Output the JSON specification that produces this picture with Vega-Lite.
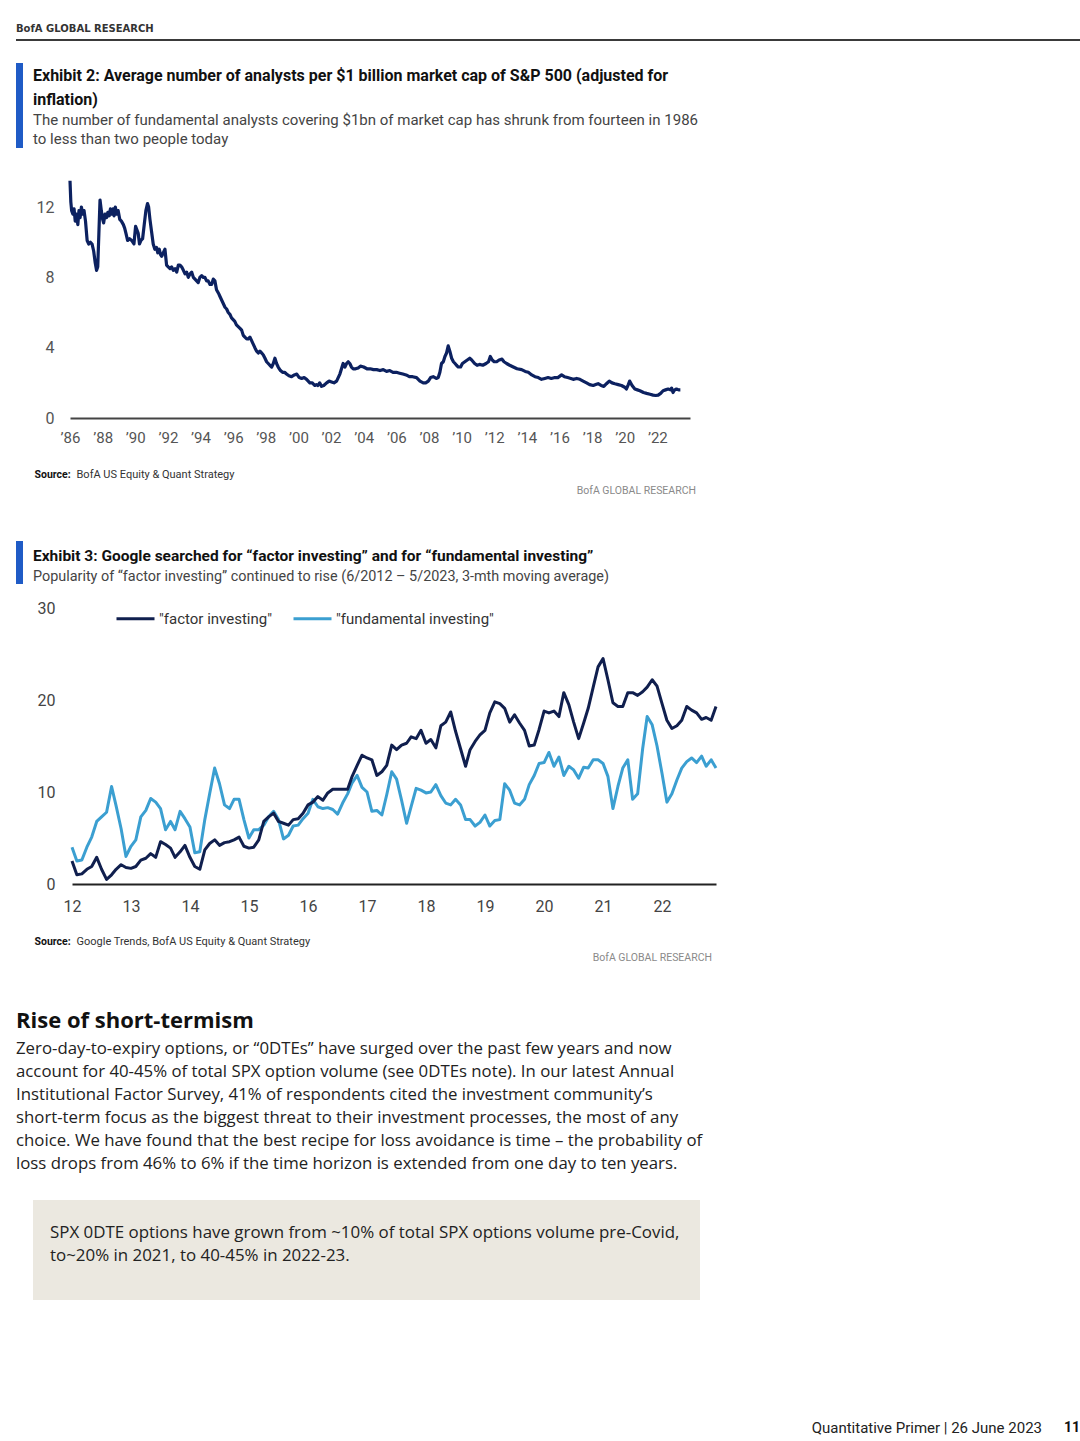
{
  "$schema": "https://vega.github.io/schema/vega-lite/v6.json",
  "background": "white",
  "padding": {"left": 16, "top": 0, "right": 0, "bottom": 0},
  "bounds": "flush",
  "spacing": 0,
  "config": {
    "view": {"stroke": null},
    "font": "Roboto",
    "title": {"font": "Roboto", "subtitleFont": "Roboto"},
    "axis": {"labelFont": "Roboto", "titleFont": "Roboto"},
    "legend": {"labelFont": "Roboto"}
  },
  "datasets": {
    "ana": [
      {"t":1986.00,"v":13.5},{"t":1986.05,"v":12.3},{"t":1986.10,"v":11.8},{"t":1986.18,"v":11.6},{"t":1986.25,"v":11.9},{"t":1986.32,"v":11.2},{"t":1986.40,"v":11.6},{"t":1986.48,"v":11.0},{"t":1986.55,"v":11.8},{"t":1986.62,"v":11.4},{"t":1986.70,"v":12.0},{"t":1986.78,"v":11.6},{"t":1986.86,"v":11.8},{"t":1986.95,"v":11.2},
      {"t":1987.05,"v":10.1},{"t":1987.15,"v":9.9},{"t":1987.25,"v":10.0},{"t":1987.35,"v":9.9},{"t":1987.45,"v":9.5},{"t":1987.55,"v":8.8},{"t":1987.63,"v":8.4},{"t":1987.70,"v":8.6},{"t":1987.77,"v":10.5},{"t":1987.84,"v":12.4},{"t":1987.92,"v":11.8},
      {"t":1988.00,"v":11.3},{"t":1988.06,"v":11.1},{"t":1988.15,"v":11.6},{"t":1988.24,"v":11.4},{"t":1988.32,"v":11.7},{"t":1988.40,"v":11.5},{"t":1988.48,"v":11.9},{"t":1988.56,"v":11.6},{"t":1988.64,"v":11.9},{"t":1988.70,"v":11.5},{"t":1988.78,"v":12.0},{"t":1988.86,"v":11.6},{"t":1988.95,"v":11.8},
      {"t":1989.05,"v":11.3},{"t":1989.15,"v":11.2},{"t":1989.27,"v":11.0},{"t":1989.35,"v":10.8},{"t":1989.43,"v":10.5},{"t":1989.53,"v":10.1},{"t":1989.65,"v":10.2},{"t":1989.78,"v":10.1},{"t":1989.92,"v":9.9},
      {"t":1990.02,"v":10.9},{"t":1990.10,"v":10.7},{"t":1990.18,"v":10.5},{"t":1990.26,"v":9.9},{"t":1990.35,"v":10.1},{"t":1990.45,"v":10.2},{"t":1990.55,"v":11.0},{"t":1990.65,"v":11.8},{"t":1990.75,"v":12.2},{"t":1990.82,"v":12.0},{"t":1990.90,"v":11.3},
      {"t":1991.00,"v":10.6},{"t":1991.10,"v":9.9},{"t":1991.20,"v":9.6},{"t":1991.30,"v":9.7},{"t":1991.38,"v":9.4},{"t":1991.47,"v":9.6},{"t":1991.55,"v":9.3},{"t":1991.62,"v":9.2},{"t":1991.72,"v":9.4},{"t":1991.82,"v":9.6},{"t":1991.92,"v":8.7},
      {"t":1992.02,"v":8.6},{"t":1992.13,"v":8.5},{"t":1992.23,"v":8.6},{"t":1992.33,"v":8.4},{"t":1992.44,"v":8.5},{"t":1992.54,"v":8.3},{"t":1992.64,"v":8.7},{"t":1992.74,"v":8.7},{"t":1992.84,"v":8.6},{"t":1992.95,"v":8.4},
      {"t":1993.05,"v":8.2},{"t":1993.15,"v":8.3},{"t":1993.25,"v":8.0},{"t":1993.36,"v":8.2},{"t":1993.46,"v":8.3},{"t":1993.56,"v":8.0},{"t":1993.66,"v":7.9},{"t":1993.76,"v":7.8},{"t":1993.86,"v":7.7},{"t":1993.96,"v":8.0},
      {"t":1994.07,"v":8.1},{"t":1994.17,"v":8.0},{"t":1994.27,"v":8.0},{"t":1994.37,"v":7.8},{"t":1994.47,"v":7.8},{"t":1994.58,"v":7.6},{"t":1994.68,"v":7.6},{"t":1994.78,"v":7.9},{"t":1994.88,"v":7.8},{"t":1994.98,"v":7.3},
      {"t":1995.10,"v":7.1},{"t":1995.20,"v":6.9},{"t":1995.30,"v":6.7},{"t":1995.40,"v":6.5},{"t":1995.50,"v":6.3},{"t":1995.60,"v":6.2},{"t":1995.70,"v":6.0},{"t":1995.80,"v":5.9},{"t":1995.90,"v":5.7},
      {"t":1996.00,"v":5.6},{"t":1996.10,"v":5.5},{"t":1996.20,"v":5.3},{"t":1996.31,"v":5.2},{"t":1996.42,"v":5.1},{"t":1996.52,"v":5.0},{"t":1996.62,"v":4.7},{"t":1996.72,"v":4.6},{"t":1996.83,"v":4.5},{"t":1996.93,"v":4.5},
      {"t":1997.03,"v":4.6},{"t":1997.13,"v":4.4},{"t":1997.23,"v":4.2},{"t":1997.33,"v":4.0},{"t":1997.44,"v":3.8},{"t":1997.54,"v":3.7},{"t":1997.64,"v":3.8},{"t":1997.74,"v":3.7},{"t":1997.84,"v":3.6},{"t":1997.95,"v":3.4},
      {"t":1998.05,"v":3.2},{"t":1998.15,"v":3.1},{"t":1998.25,"v":3.0},{"t":1998.36,"v":2.9},{"t":1998.46,"v":3.1},{"t":1998.56,"v":3.4},{"t":1998.66,"v":3.1},{"t":1998.76,"v":2.9},{"t":1998.90,"v":2.7},
      {"t":1999.03,"v":2.6},{"t":1999.15,"v":2.6},{"t":1999.27,"v":2.5},{"t":1999.42,"v":2.4},{"t":1999.58,"v":2.35},{"t":1999.75,"v":2.45},{"t":1999.90,"v":2.5},
      {"t":2000.05,"v":2.3},{"t":2000.20,"v":2.25},{"t":2000.35,"v":2.3},{"t":2000.50,"v":2.2},{"t":2000.60,"v":2.1},{"t":2000.70,"v":2.0},{"t":2000.85,"v":2.0},
      {"t":2001.00,"v":1.85},{"t":2001.10,"v":1.9},{"t":2001.20,"v":1.85},{"t":2001.30,"v":2.0},{"t":2001.42,"v":1.8},{"t":2001.55,"v":1.85},{"t":2001.73,"v":2.0},{"t":2001.88,"v":2.1},
      {"t":2002.03,"v":2.05},{"t":2002.18,"v":2.0},{"t":2002.34,"v":2.1},{"t":2002.44,"v":2.3},{"t":2002.54,"v":2.5},{"t":2002.64,"v":2.8},{"t":2002.74,"v":3.1},{"t":2002.85,"v":2.9},{"t":2002.95,"v":3.1},
      {"t":2003.05,"v":3.2},{"t":2003.15,"v":3.1},{"t":2003.25,"v":2.9},{"t":2003.36,"v":2.8},{"t":2003.50,"v":2.8},{"t":2003.66,"v":2.85},{"t":2003.80,"v":2.95},
      {"t":2004.00,"v":2.9},{"t":2004.20,"v":2.8},{"t":2004.40,"v":2.8},{"t":2004.60,"v":2.75},{"t":2004.80,"v":2.75},
      {"t":2005.00,"v":2.7},{"t":2005.20,"v":2.75},{"t":2005.40,"v":2.65},{"t":2005.60,"v":2.7},{"t":2005.80,"v":2.6},
      {"t":2006.00,"v":2.6},{"t":2006.20,"v":2.55},{"t":2006.40,"v":2.5},{"t":2006.60,"v":2.45},{"t":2006.80,"v":2.35},
      {"t":2007.00,"v":2.35},{"t":2007.24,"v":2.3},{"t":2007.45,"v":2.1},{"t":2007.65,"v":2.0},{"t":2007.80,"v":2.0},{"t":2007.96,"v":2.1},
      {"t":2008.10,"v":2.3},{"t":2008.26,"v":2.35},{"t":2008.45,"v":2.25},{"t":2008.57,"v":2.3},{"t":2008.67,"v":2.6},{"t":2008.77,"v":3.1},{"t":2008.88,"v":3.2},{"t":2008.98,"v":3.5},
      {"t":2009.08,"v":3.7},{"t":2009.18,"v":4.1},{"t":2009.28,"v":3.8},{"t":2009.39,"v":3.4},{"t":2009.50,"v":3.2},{"t":2009.60,"v":3.1},{"t":2009.69,"v":3.0},{"t":2009.80,"v":2.9},{"t":2009.94,"v":2.9},
      {"t":2010.05,"v":3.1},{"t":2010.20,"v":3.2},{"t":2010.35,"v":3.3},{"t":2010.50,"v":3.4},{"t":2010.62,"v":3.3},{"t":2010.80,"v":3.1},{"t":2010.95,"v":3.0},
      {"t":2011.10,"v":3.05},{"t":2011.30,"v":3.0},{"t":2011.50,"v":3.1},{"t":2011.65,"v":3.2},{"t":2011.76,"v":3.5},{"t":2011.88,"v":3.3},
      {"t":2012.00,"v":3.2},{"t":2012.15,"v":3.2},{"t":2012.30,"v":3.3},{"t":2012.48,"v":3.35},{"t":2012.60,"v":3.2},{"t":2012.76,"v":3.1},{"t":2012.95,"v":3.0},
      {"t":2013.17,"v":2.9},{"t":2013.40,"v":2.8},{"t":2013.68,"v":2.75},{"t":2013.90,"v":2.65},
      {"t":2014.09,"v":2.6},{"t":2014.30,"v":2.45},{"t":2014.50,"v":2.35},{"t":2014.70,"v":2.3},{"t":2014.90,"v":2.2},
      {"t":2015.10,"v":2.25},{"t":2015.30,"v":2.3},{"t":2015.50,"v":2.25},{"t":2015.72,"v":2.3},{"t":2015.90,"v":2.3},
      {"t":2016.13,"v":2.45},{"t":2016.30,"v":2.35},{"t":2016.50,"v":2.3},{"t":2016.70,"v":2.25},{"t":2016.84,"v":2.2},
      {"t":2017.05,"v":2.25},{"t":2017.25,"v":2.2},{"t":2017.45,"v":2.1},{"t":2017.66,"v":2.0},{"t":2017.85,"v":1.9},
      {"t":2018.07,"v":1.85},{"t":2018.22,"v":1.9},{"t":2018.37,"v":1.95},{"t":2018.55,"v":1.85},{"t":2018.72,"v":1.8},{"t":2018.88,"v":1.95},
      {"t":2019.05,"v":2.1},{"t":2019.22,"v":2.0},{"t":2019.40,"v":1.95},{"t":2019.60,"v":1.9},{"t":2019.80,"v":1.85},
      {"t":2020.00,"v":1.75},{"t":2020.10,"v":1.65},{"t":2020.22,"v":1.9},{"t":2020.30,"v":2.1},{"t":2020.45,"v":1.85},{"t":2020.62,"v":1.65},{"t":2020.78,"v":1.6},{"t":2020.93,"v":1.55},
      {"t":2021.15,"v":1.45},{"t":2021.34,"v":1.4},{"t":2021.55,"v":1.35},{"t":2021.74,"v":1.3},{"t":2021.90,"v":1.28},
      {"t":2022.05,"v":1.3},{"t":2022.20,"v":1.4},{"t":2022.35,"v":1.55},{"t":2022.50,"v":1.6},{"t":2022.66,"v":1.65},{"t":2022.80,"v":1.6},{"t":2022.87,"v":1.7},{"t":2022.96,"v":1.45},
      {"t":2023.06,"v":1.6},{"t":2023.17,"v":1.65},{"t":2023.30,"v":1.6},{"t":2023.41,"v":1.6}
    ],
    "gt": [
      {"d":"2012-06","factor":2.5,"fund":4.0},{"d":"2012-07","factor":1.0,"fund":2.5},{"d":"2012-08","factor":1.1,"fund":2.6},{"d":"2012-09","factor":1.6,"fund":4.0},{"d":"2012-10","factor":1.9,"fund":5.1},{"d":"2012-11","factor":2.9,"fund":6.8},{"d":"2012-12","factor":1.6,"fund":7.3},
      {"d":"2013-01","factor":0.5,"fund":7.8},{"d":"2013-02","factor":1.0,"fund":10.6},{"d":"2013-03","factor":1.6,"fund":8.5},{"d":"2013-04","factor":2.1,"fund":6.0},{"d":"2013-05","factor":1.8,"fund":3.0},{"d":"2013-06","factor":1.7,"fund":4.1},{"d":"2013-07","factor":1.9,"fund":4.8},{"d":"2013-08","factor":2.6,"fund":7.3},{"d":"2013-09","factor":2.8,"fund":8.0},{"d":"2013-10","factor":3.3,"fund":9.3},{"d":"2013-11","factor":2.9,"fund":8.9},{"d":"2013-12","factor":4.6,"fund":8.2},
      {"d":"2014-01","factor":4.3,"fund":5.9},{"d":"2014-02","factor":3.9,"fund":6.8},{"d":"2014-03","factor":2.9,"fund":5.9},{"d":"2014-04","factor":3.5,"fund":7.9},{"d":"2014-05","factor":4.2,"fund":7.1},{"d":"2014-06","factor":2.9,"fund":6.2},{"d":"2014-07","factor":1.9,"fund":3.4},{"d":"2014-08","factor":1.6,"fund":3.5},{"d":"2014-09","factor":3.7,"fund":7.0},{"d":"2014-10","factor":4.4,"fund":9.8},{"d":"2014-11","factor":4.8,"fund":12.6},{"d":"2014-12","factor":4.2,"fund":10.9},
      {"d":"2015-01","factor":4.5,"fund":8.6},{"d":"2015-02","factor":4.6,"fund":8.2},{"d":"2015-03","factor":4.8,"fund":9.2},{"d":"2015-04","factor":5.1,"fund":9.2},{"d":"2015-05","factor":4.1,"fund":7.0},{"d":"2015-06","factor":3.9,"fund":5.0},{"d":"2015-07","factor":4.0,"fund":5.9},{"d":"2015-08","factor":4.8,"fund":5.9},{"d":"2015-09","factor":6.8,"fund":6.4},{"d":"2015-10","factor":7.3,"fund":7.3},{"d":"2015-11","factor":7.7,"fund":7.9},{"d":"2015-12","factor":6.8,"fund":7.0},
      {"d":"2016-01","factor":6.6,"fund":4.9},{"d":"2016-02","factor":6.4,"fund":5.3},{"d":"2016-03","factor":7.0,"fund":6.3},{"d":"2016-04","factor":7.1,"fund":6.4},{"d":"2016-05","factor":7.7,"fund":7.1},{"d":"2016-06","factor":8.6,"fund":7.7},{"d":"2016-07","factor":8.9,"fund":9.2},{"d":"2016-08","factor":9.5,"fund":8.4},{"d":"2016-09","factor":9.1,"fund":8.2},{"d":"2016-10","factor":9.9,"fund":8.3},{"d":"2016-11","factor":10.3,"fund":8.1},{"d":"2016-12","factor":10.3,"fund":7.6},
      {"d":"2017-01","factor":10.3,"fund":8.8},{"d":"2017-02","factor":10.3,"fund":9.8},{"d":"2017-03","factor":11.7,"fund":11.0},{"d":"2017-04","factor":12.9,"fund":11.8},{"d":"2017-05","factor":14.0,"fund":10.5},{"d":"2017-06","factor":13.7,"fund":10.0},{"d":"2017-07","factor":13.5,"fund":7.9},{"d":"2017-08","factor":11.8,"fund":8.0},{"d":"2017-09","factor":12.2,"fund":7.5},{"d":"2017-10","factor":12.9,"fund":9.7},{"d":"2017-11","factor":15.1,"fund":12.2},{"d":"2017-12","factor":14.6,"fund":11.4},
      {"d":"2018-01","factor":15.1,"fund":9.1},{"d":"2018-02","factor":15.3,"fund":6.6},{"d":"2018-03","factor":16.0,"fund":8.4},{"d":"2018-04","factor":15.8,"fund":10.4},{"d":"2018-05","factor":16.7,"fund":10.2},{"d":"2018-06","factor":15.3,"fund":9.9},{"d":"2018-07","factor":15.7,"fund":10.0},{"d":"2018-08","factor":14.8,"fund":10.8},{"d":"2018-09","factor":17.2,"fund":9.6},{"d":"2018-10","factor":17.6,"fund":8.8},{"d":"2018-11","factor":18.7,"fund":8.6},{"d":"2018-12","factor":16.6,"fund":9.2},
      {"d":"2019-01","factor":14.7,"fund":8.6},{"d":"2019-02","factor":12.8,"fund":7.0},{"d":"2019-03","factor":14.6,"fund":7.0},{"d":"2019-04","factor":15.5,"fund":6.3},{"d":"2019-05","factor":16.2,"fund":6.7},{"d":"2019-06","factor":16.7,"fund":7.5},{"d":"2019-07","factor":18.6,"fund":6.3},{"d":"2019-08","factor":19.8,"fund":6.9},{"d":"2019-09","factor":19.6,"fund":7.0},{"d":"2019-10","factor":19.1,"fund":10.9},{"d":"2019-11","factor":17.6,"fund":10.2},{"d":"2019-12","factor":18.4,"fund":8.8},
      {"d":"2020-01","factor":17.5,"fund":8.6},{"d":"2020-02","factor":16.7,"fund":9.2},{"d":"2020-03","factor":15.0,"fund":10.8},{"d":"2020-04","factor":15.1,"fund":11.8},{"d":"2020-05","factor":16.8,"fund":13.1},{"d":"2020-06","factor":18.8,"fund":13.2},{"d":"2020-07","factor":18.6,"fund":14.3},{"d":"2020-08","factor":18.8,"fund":12.8},{"d":"2020-09","factor":18.2,"fund":13.8},{"d":"2020-10","factor":20.8,"fund":11.8},{"d":"2020-11","factor":19.5,"fund":12.8},{"d":"2020-12","factor":17.6,"fund":12.4},
      {"d":"2021-01","factor":15.8,"fund":11.5},{"d":"2021-02","factor":17.5,"fund":12.7},{"d":"2021-03","factor":19.1,"fund":12.6},{"d":"2021-04","factor":21.4,"fund":13.5},{"d":"2021-05","factor":23.6,"fund":13.5},{"d":"2021-06","factor":24.5,"fund":13.1},{"d":"2021-07","factor":22.2,"fund":11.7},{"d":"2021-08","factor":19.7,"fund":8.2},{"d":"2021-09","factor":19.3,"fund":10.6},{"d":"2021-10","factor":19.3,"fund":12.6},{"d":"2021-11","factor":20.8,"fund":13.5},{"d":"2021-12","factor":20.8,"fund":9.2},
      {"d":"2022-01","factor":20.5,"fund":9.8},{"d":"2022-02","factor":20.9,"fund":14.7},{"d":"2022-03","factor":21.4,"fund":18.2},{"d":"2022-04","factor":22.2,"fund":17.3},{"d":"2022-05","factor":21.5,"fund":15.0},{"d":"2022-06","factor":19.6,"fund":12.0},{"d":"2022-07","factor":17.8,"fund":8.9},{"d":"2022-08","factor":16.9,"fund":9.8},{"d":"2022-09","factor":17.2,"fund":11.3},{"d":"2022-10","factor":17.8,"fund":12.6},{"d":"2022-11","factor":19.3,"fund":13.3},{"d":"2022-12","factor":18.9,"fund":13.7},
      {"d":"2023-01","factor":18.6,"fund":13.2},{"d":"2023-02","factor":17.9,"fund":13.9},{"d":"2023-03","factor":18.1,"fund":12.8},{"d":"2023-04","factor":17.8,"fund":13.5},{"d":"2023-05","factor":19.3,"fund":12.6}
    ]
  },
  "vconcat": [
    {"width": 1, "height": 39, "data": {"values": []}, "mark": "point"},
    {
      "width": 1064, "height": 2, "view": {"fill": "#3a3a3a"},
      "data": {"values": []}, "mark": "point",
      "title": {"text": "BofA GLOBAL RESEARCH", "orient": "top", "anchor": "start", "frame": "group", "offset": 5, "font": "DejaVu Sans", "fontSize": 10, "fontWeight": "bold", "color": "#333333"}
    },
    {"width": 1, "height": 22, "data": {"values": []}, "mark": "point"},
    {
      "width": 7, "height": 85, "view": {"fill": "#1f5bc6"},
      "data": {"values": []}, "mark": "point",
      "title": {
        "text": ["Exhibit 2: Average number of analysts per $1 billion market cap of S&P 500 (adjusted for", "inflation)"],
        "subtitle": ["The number of fundamental analysts covering $1bn of market cap has shrunk from fourteen in 1986", "to less than two people today"],
        "orient": "bottom", "anchor": "start", "frame": "group", "align": "left", "offset": -80, "dx": 17,
        "fontSize": 16, "fontWeight": "bold", "color": "#111111", "lineHeight": 24,
        "subtitleFontSize": 15, "subtitleColor": "#444444", "subtitleLineHeight": 19, "subtitlePadding": 5
      }
    },
    {
      "width": 680, "height": 270,
      "data": {"name": "ana"},
      "mark": {"type": "line", "color": "#0c2160", "strokeWidth": 3.2, "strokeJoin": "round"},
      "encoding": {
        "x": {
          "field": "t", "type": "quantitative",
          "scale": {"domain": [1986, 2024], "range": [54, 674], "nice": false, "zero": false},
          "axis": {
            "values": [1986,1988,1990,1992,1994,1996,1998,2000,2002,2004,2006,2008,2010,2012,2014,2016,2018,2020,2022],
            "labelExpr": "'\u2019' + substring(toString(datum.value), 2)",
            "labelFlush": false, "labelOverlap": false,
            "grid": false, "ticks": false, "tickSize": 0, "domainColor": "#444444", "domainWidth": 2,
            "labelFontSize": 15, "labelColor": "#555555", "labelPadding": 12,
            "title": "Source:", "titleFontWeight": "bold", "titleFontSize": 10.5, "titleColor": "#111111",
            "titleX": 18, "titleY": 56, "titleAlign": "left", "titleBaseline": "middle"
          }
        },
        "y": {
          "field": "v", "type": "quantitative",
          "scale": {"domain": [0, 15.36], "nice": false},
          "axis": {
            "values": [0, 4, 8, 12], "grid": false, "ticks": false, "tickSize": 0, "domain": false,
            "offset": -44, "labelPadding": 6, "labelFontSize": 16, "labelColor": "#555555",
            "title": "BofA US Equity & Quant Strategy", "titleAngle": 0, "titleX": 16, "titleY": 326,
            "titleAlign": "left", "titleBaseline": "middle", "titleFontWeight": "normal", "titleFontSize": 11, "titleColor": "#333333"
          }
        }
      },
      "title": {"text": "BofA GLOBAL RESEARCH", "orient": "bottom", "anchor": "end", "frame": "group", "offset": 6, "fontSize": 10.5, "fontWeight": "normal", "color": "#8a8a8a"}
    },
    {"width": 1, "height": 123, "data": {"values": []}, "mark": "point"},
    {
      "width": 7, "height": 43, "view": {"fill": "#1f5bc6"},
      "data": {"values": []}, "mark": "point",
      "title": {
        "text": "Exhibit 3: Google searched for \u201cfactor investing\u201d and for \u201cfundamental investing\u201d",
        "subtitle": "Popularity of \u201cfactor investing\u201d continued to rise (6/2012 \u2013 5/2023, 3-mth moving average)",
        "orient": "bottom", "anchor": "start", "frame": "group", "align": "left", "offset": -35, "dx": 17,
        "fontSize": 15.5, "fontWeight": "bold", "color": "#111111", "lineHeight": 24,
        "subtitleFontSize": 14.4, "subtitleColor": "#444444", "subtitleLineHeight": 19, "subtitlePadding": 5
      }
    },
    {
      "width": 696, "height": 300,
      "data": {"name": "gt"},
      "encoding": {
        "x": {
          "field": "d", "type": "temporal",
          "scale": {"type": "utc", "domain": [{"year": 2012, "month": 6, "date": 1, "utc": true}, {"year": 2023, "month": 5, "date": 1, "utc": true}], "range": [56, 700]},
          "axis": {
            "values": [
              {"year": 2012, "month": 6, "date": 1, "utc": true},{"year": 2013, "month": 6, "date": 1, "utc": true},{"year": 2014, "month": 6, "date": 1, "utc": true},
              {"year": 2015, "month": 6, "date": 1, "utc": true},{"year": 2016, "month": 6, "date": 1, "utc": true},{"year": 2017, "month": 6, "date": 1, "utc": true},
              {"year": 2018, "month": 6, "date": 1, "utc": true},{"year": 2019, "month": 6, "date": 1, "utc": true},{"year": 2020, "month": 6, "date": 1, "utc": true},
              {"year": 2021, "month": 6, "date": 1, "utc": true},{"year": 2022, "month": 6, "date": 1, "utc": true}
            ],
            "labelExpr": "utcFormat(datum.value, '%y')",
            "labelFlush": false, "labelOverlap": false,
            "grid": false, "ticks": false, "tickSize": 0, "domainColor": "#222222", "domainWidth": 2,
            "labelFontSize": 16, "labelColor": "#444444", "labelPadding": 14,
            "title": "Source:", "titleFontWeight": "bold", "titleFontSize": 10.5, "titleColor": "#111111",
            "titleX": 18, "titleY": 57, "titleAlign": "left", "titleBaseline": "middle"
          }
        }
      },
      "layer": [
        {
          "mark": {"type": "line", "strokeWidth": 3, "strokeJoin": "round"},
          "encoding": {
            "y": {
              "field": "fund", "type": "quantitative",
              "scale": {"domain": [0, 32.61], "nice": false},
              "axis": {
                "values": [0, 10, 20, 30], "grid": false, "ticks": false, "tickSize": 0, "domain": false,
                "offset": -45, "labelPadding": 6, "labelFontSize": 16, "labelColor": "#444444",
                "title": "Google Trends, BofA US Equity & Quant Strategy", "titleAngle": 0, "titleX": 15, "titleY": 357,
                "titleAlign": "left", "titleBaseline": "middle", "titleFontWeight": "normal", "titleFontSize": 11, "titleColor": "#333333"
              }
            },
            "color": {
              "datum": "\"fundamental investing\"",
              "scale": {"domain": ["\"factor investing\"", "\"fundamental investing\""], "range": ["#101f4e", "#3b9fd1"]},
              "legend": {
                "orient": "none", "legendX": 99, "legendY": 598, "direction": "horizontal", "title": null,
                "symbolType": "stroke", "symbolSize": 1444, "symbolStrokeWidth": 3, "labelOffset": 3,
                "columnPadding": 14, "labelFontSize": 15, "labelColor": "#333333"
              }
            }
          }
        },
        {
          "mark": {"type": "line", "strokeWidth": 3, "strokeJoin": "round"},
          "encoding": {
            "y": {
              "field": "factor", "type": "quantitative",
              "scale": {"domain": [0, 32.61], "nice": false},
              "axis": {
                "values": [0, 10, 20, 30], "grid": false, "ticks": false, "tickSize": 0, "domain": false,
                "offset": -45, "labelPadding": 6, "labelFontSize": 16, "labelColor": "#444444",
                "title": "Google Trends, BofA US Equity & Quant Strategy", "titleAngle": 0, "titleX": 15, "titleY": 357,
                "titleAlign": "left", "titleBaseline": "middle", "titleFontWeight": "normal", "titleFontSize": 11, "titleColor": "#333333"
              }
            },
            "color": {"datum": "\"factor investing\""}
          }
        }
      ],
      "title": {"text": "BofA GLOBAL RESEARCH", "orient": "bottom", "anchor": "end", "frame": "group", "offset": 6, "fontSize": 10.5, "fontWeight": "normal", "color": "#8a8a8a"}
    },
    {"width": 1, "height": 316, "data": {"values": []}, "mark": "point"},
    {
      "hconcat": [
        {
          "width": 17, "height": 100, "data": {"values": []}, "mark": "point",
          "title": {
            "text": "Rise of short-termism",
            "subtitle": [
              "Zero-day-to-expiry options, or \u201c0DTEs\u201d have surged over the past few years and now",
              "account for 40-45% of total SPX option volume (see 0DTEs note). In our latest Annual",
              "Institutional Factor Survey, 41% of respondents cited the investment community\u2019s",
              "short-term focus as the biggest threat to their investment processes, the most of any",
              "choice. We have found that the best recipe for loss avoidance is time \u2013 the probability of",
              "loss drops from 46% to 6% if the time horizon is extended from one day to ten years."
            ],
            "orient": "top", "anchor": "start", "frame": "group", "align": "left", "offset": 26,
            "font": "Open Sans", "fontSize": 22, "fontWeight": "bold", "color": "#111111",
            "subtitleFont": "Open Sans", "subtitleFontSize": 16.8, "subtitleColor": "#222222", "subtitleLineHeight": 23, "subtitlePadding": 8
          }
        },
        {
          "width": 667, "height": 100, "view": {"fill": "#ebe8e0"}, "data": {"values": []}, "mark": "point",
          "title": {
            "text": ["SPX 0DTE options have grown from ~10% of total SPX options volume pre-Covid,", "to~20% in 2021, to 40-45% in 2022-23."],
            "orient": "bottom", "anchor": "start", "frame": "group", "align": "left", "offset": -75, "dx": 17,
            "font": "Open Sans", "fontSize": 16.9, "fontWeight": "normal", "color": "#222222", "lineHeight": 23
          }
        }
      ],
      "spacing": 0,
      "bounds": "flush"
    },
    {
      "width": 1, "height": 210, "data": {"values": []}, "mark": "point",
      "title": {"text": "11", "orient": "bottom", "anchor": "start", "frame": "group", "align": "left", "offset": 11, "dx": 1048, "fontSize": 14, "fontWeight": "bold", "color": "#111111"}
    },
    {
      "width": 1064, "height": 31, "data": {"values": []}, "mark": "point",
      "title": {"text": "Quantitative Primer | 26 June 2023", "orient": "bottom", "anchor": "end", "frame": "group", "align": "right", "offset": -20, "dx": -38, "fontSize": 15, "fontWeight": "normal", "color": "#222222"}
    }
  ]
}
